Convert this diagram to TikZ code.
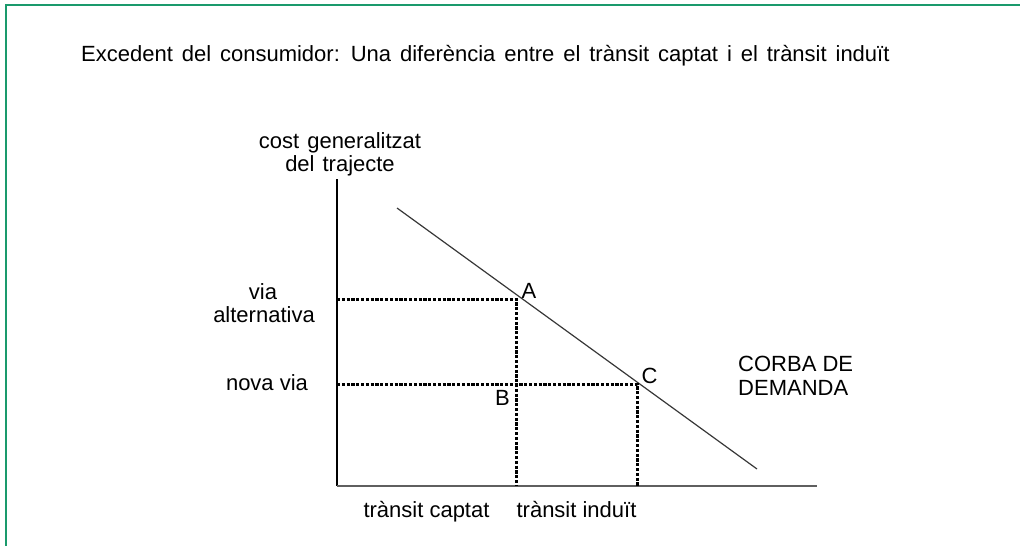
\documentclass[tikz,border=0pt]{standalone}
\usepackage{fontspec}
\setmainfont{Liberation Sans}
\definecolor{framegreen}{RGB}{26,154,108}
\definecolor{axisgrey}{RGB}{95,95,95}
\definecolor{curvegrey}{RGB}{55,55,55}
\begin{document}
\begin{tikzpicture}[x=1pt,y=-1pt,
  lbl/.style={inner sep=0pt, anchor=base west, font=\fontsize{22}{24}\selectfont},
  clbl/.style={lbl, anchor=base},
  dotline/.style={line width=3pt, dash pattern=on 3.2pt off 1.6pt},
  frame/.style={draw=framegreen, line width=2pt},
  yaxis/.style={draw=black, line width=1.3pt},
  xaxis/.style={draw=axisgrey, line width=1.6pt},
  demand/.style={draw=curvegrey, line width=1.2pt}]
\useasboundingbox (0,0) rectangle (1020,546);
% frame
\coordinate (F1) at (6,546);
\coordinate (F2) at (6,4.5);
\coordinate (F3) at (1020,4.5);
\draw[frame] (F1) -- (F2) -- (F3);
% title
\node[lbl] (title) at (81,61) {\spaceskip=8.9pt plus 1pt\relax Excedent del consumidor: Una diferència entre el trànsit captat i el trànsit induït};
% axes
\coordinate (O) at (337,486);
\coordinate (Ytop) at (337,179);
\coordinate (Xend) at (817,486);
\draw[yaxis] (Ytop) -- (O);
\draw[xaxis] (O) -- (Xend);
% demand curve
\coordinate (D1) at (397,208);
\coordinate (D2) at (757,469);
\draw[demand] (D1) -- (D2);
% points
\coordinate (A) at (516,299);
\coordinate (C) at (637,384);
\coordinate (B) at (516,384);
\coordinate (Ay) at (337,299);
\coordinate (Cy) at (337,384);
\coordinate (Ax) at (516,486);
\coordinate (Cx) at (637,486);
\draw[dotline] (Ay) -- (A) -- (Ax);
\draw[dotline] (Cy) -- (C) -- (Cx);
% labels
\node[clbl] (ylab1) at (340,148) {\spaceskip=8pt\relax cost generalitzat};
\node[clbl] (ylab2) at (340,171) {\spaceskip=8pt\relax del trajecte};
\node[clbl] (via1) at (263,299) {via};
\node[clbl] (via2) at (264,322) {alternativa};
\node[clbl] (nova) at (267,390) {nova via};
\node[lbl] (lA) at (521.5,298.3) {A};
\node[lbl] (lC) at (641.5,383) {C};
\node[lbl] (lB) at (495,405) {B};
\node[lbl] (corba1) at (738,371.7) {CORBA DE};
\node[lbl] (corba2) at (738,395) {DEMANDA};
\node[clbl] (tc) at (426.5,517) {trànsit captat};
\node[clbl] (ti) at (576.5,517) {trànsit induït};
\end{tikzpicture}
\end{document}
